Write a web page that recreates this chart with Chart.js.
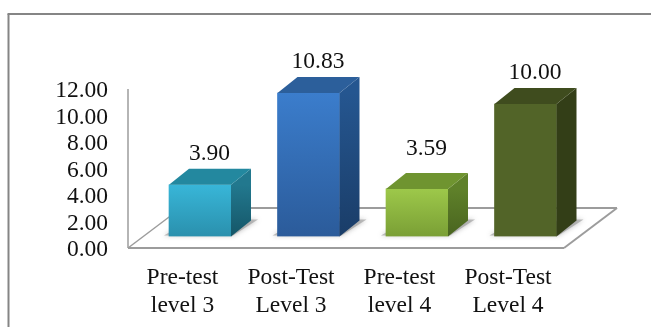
<!DOCTYPE html>
<html>
<head>
<meta charset="utf-8">
<script src="https://cdn.jsdelivr.net/npm/chart.js@4/dist/chart.umd.min.js"></script>
<style>
    html, body { margin: 0; padding: 0; background: #fff; overflow: hidden; }
    canvas { display: block; }
</style>
</head>
<body>
<canvas id="chart" width="651" height="327"></canvas>
<script>
const categories = [['Pre-test', 'level 3'], ['Post-Test', 'Level 3'], ['Pre-test', 'level 4'], ['Post-Test', 'Level 4']];
const values = [3.90, 10.83, 3.59, 10.00];
const tickValues = [0, 2, 4, 6, 8, 10, 12];

// face colours per bar
const frontTop = ['#38b6d8', '#3b7dcc', '#9dc84a', '#526428'];
const frontBottom = ['#2a90ad', '#2b5b9a', '#7a9f35', '#526428'];
const topFace = ['#23889f', '#2c5f9b', '#6f9430', '#3f4c1e'];
const sideTop = ['#22788e', '#255690', '#5f812a', '#333e17'];
const sideBottom = ['#155668', '#1a3d68', '#49641f', '#333e17'];

const FONT = '"Liberation Serif", "Times New Roman", serif';
const TEXT_COLOR = '#111';
const LINE_COLOR = '#9c9c9c';
const DEPTH_X = 20;
const DEPTH_Y = 16;
const FLOOR_DROP = 11.5;

function polygon(ctx, points, fill) {
    ctx.beginPath();
    points.forEach((p, i) => i ? ctx.lineTo(p[0], p[1]) : ctx.moveTo(p[0], p[1]));
    ctx.closePath();
    ctx.fillStyle = fill;
    ctx.fill();
}

function line(ctx, x1, y1, x2, y2, color, width) {
    ctx.beginPath();
    ctx.moveTo(x1, y1);
    ctx.lineTo(x2, y2);
    ctx.strokeStyle = color;
    ctx.lineWidth = width;
    ctx.stroke();
}

// frame, 3d floor, wall line and bar shadows go under the bars
const floorPlugin = {
    id: 'floor',
    beforeDatasetsDraw(chart) {
        const ctx = chart.ctx;
        const area = chart.chartArea;
        const frontY = area.bottom + FLOOR_DROP;
        const backY = frontY - 40;
        const left = area.left - 17.75;
        const right = area.right - 15.75;

        ctx.save();
        line(ctx, 8.5, 14, 8.5, 327, '#858585', 2);
        line(ctx, 7.5, 14, 651, 14, '#858585', 2);

        line(ctx, left, frontY, left, chart.scales.y.getPixelForValue(12) + 11.5, LINE_COLOR, 1.5);
        line(ctx, left, frontY, right, frontY, LINE_COLOR, 2);
        line(ctx, right, frontY, right + 53, backY, LINE_COLOR, 2);
        line(ctx, right + 53, backY, left + 53, backY, LINE_COLOR, 2);
        line(ctx, left, frontY, left + 53, backY, LINE_COLOR, 1.5);

        chart.getDatasetMeta(0).data.forEach(bar => {
            const l = bar.x - bar.width / 2;
            const r = bar.x + bar.width / 2;
            const b = bar.base;
            ctx.shadowColor = 'rgba(120,120,120,0.8)';
            ctx.shadowBlur = 5;
            polygon(ctx, [[l - 5, b - 1], [r + 2, b - 1], [r + 27, b - 17], [r + 10, b - 17], [l, b - 4]], 'rgba(150,150,150,0.6)');
            ctx.shadowBlur = 0;
        });
        ctx.restore();
    }
};

// side and top faces plus the value labels
const facesPlugin = {
    id: 'faces',
    afterDatasetsDraw(chart) {
        const ctx = chart.ctx;
        ctx.save();
        chart.getDatasetMeta(0).data.forEach((bar, i) => {
            const l = bar.x - bar.width / 2;
            const r = bar.x + bar.width / 2;
            const t = bar.y;
            const b = bar.base;

            const side = ctx.createLinearGradient(0, t, 0, b);
            side.addColorStop(0, sideTop[i]);
            side.addColorStop(1, sideBottom[i]);
            polygon(ctx, [[r, t], [r + DEPTH_X, t - DEPTH_Y], [r + DEPTH_X, b - DEPTH_Y], [r, b]], side);
            polygon(ctx, [[l, t], [l + DEPTH_X, t - DEPTH_Y], [r + DEPTH_X, t - DEPTH_Y], [r, t]], topFace[i]);

            ctx.font = '23.5px ' + FONT;
            ctx.fillStyle = TEXT_COLOR;
            ctx.textAlign = 'center';
            ctx.textBaseline = 'middle';
            ctx.fillText(values[i].toFixed(2), bar.x + 9.5, t - (i === 2 ? 40 : 31));
        });
        ctx.restore();
    }
};

const config = {
    type: 'bar',
    data: {
        labels: categories,
        datasets: [{
            data: values,
            barThickness: 62,
            borderWidth: 0,
            backgroundColor(c) {
                const area = c.chart.chartArea;
                if (!area) return frontTop[c.dataIndex];
                const scale = c.chart.scales.y;
                const g = c.chart.ctx.createLinearGradient(0, scale.getPixelForValue(values[c.dataIndex]), 0, scale.getPixelForValue(0));
                g.addColorStop(0, frontTop[c.dataIndex]);
                g.addColorStop(1, frontBottom[c.dataIndex]);
                return g;
            }
        }]
    },
    options: {
        responsive: false,
        animation: false,
        layout: { padding: { top: 77.5, right: 71.25, bottom: 0, left: 0 } },
        plugins: { legend: { display: false }, tooltip: { enabled: false } },
        scales: {
            x: {
                grid: { display: false, drawTicks: false },
                border: { display: false },
                afterFit(scale) { scale.height = 90.5; },
                ticks: {
                    autoSkip: false,
                    maxRotation: 0,
                    padding: 28,
                    labelOffset: -17.5,
                    color: TEXT_COLOR,
                    font: { family: FONT, size: 23.5, lineHeight: 1.17 }
                }
            },
            y: {
                min: 0,
                max: 12,
                grid: { display: false, drawTicks: false },
                border: { display: false },
                afterFit(scale) { scale.width = 145.75; },
                afterBuildTicks(scale) { scale.ticks = tickValues.map(v => ({ value: v })); },
                ticks: {
                    autoSkip: false,
                    padding: 37.75,
                    labelOffset: FLOOR_DROP + 2,
                    color: TEXT_COLOR,
                    font: { family: FONT, size: 23.5 },
                    callback: v => v.toFixed(2)
                }
            }
        }
    },
    plugins: [floorPlugin, facesPlugin]
};

new Chart(document.getElementById('chart').getContext('2d'), config);
</script>
</body>
</html>
